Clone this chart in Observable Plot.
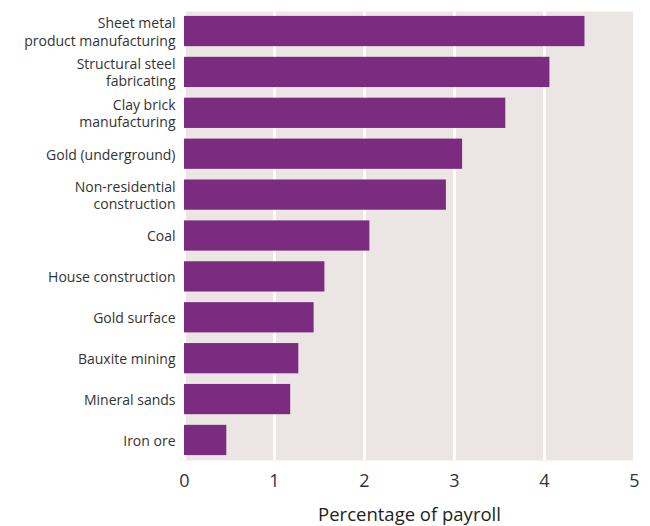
<!DOCTYPE html>
<html>
<head>
<meta charset="utf-8">
<script src="https://cdn.jsdelivr.net/npm/d3@7"></script>
<script src="https://cdn.jsdelivr.net/npm/@observablehq/plot@0.6"></script>
<style>
  html, body { margin: 0; padding: 0; background: #fff; }
  #chart { width: 650px; height: 526px; }
</style>
</head>
<body>
<div id="chart"></div>
<script>
const categories = [
  "Sheet metal\nproduct manufacturing",
  "Structural steel\nfabricating",
  "Clay brick\nmanufacturing",
  "Gold (underground)",
  "Non-residential\nconstruction",
  "Coal",
  "House construction",
  "Gold surface",
  "Bauxite mining",
  "Mineral sands",
  "Iron ore"
];
const values = [4.45, 4.06, 3.57, 3.09, 2.91, 2.06, 1.56, 1.44, 1.27, 1.18, 0.47];
const xTicks = [0, 1, 2, 3, 4, 5];

const data = categories.map((c, i) => ({category: c, value: values[i]}));

const chart = Plot.plot({
  width: 650,
  height: 526,
  marginTop: 11,
  marginBottom: 66,
  marginLeft: 184,
  marginRight: 16,
  style: {fontFamily: "'Open Sans', sans-serif", color: "#333", background: "#fff"},
  x: {domain: [0, 5], ticks: xTicks},
  y: {domain: categories, paddingInner: 0.26, paddingOuter: 0.12, round: false},
  marks: [
    Plot.frame({fill: "#EBE6E3", stroke: null}),
    Plot.gridX(xTicks, {stroke: "#fff", strokeOpacity: 1, strokeWidth: 3}),
    Plot.barX(data, {x: "value", y: "category", fill: "#7B2C81"}),
    Plot.axisY({tickSize: 0, tickPadding: 9, fontSize: 14, lineHeight: 1.22, label: null, fill: "#333"}),
    Plot.axisX(xTicks, {tickSize: 0, tickPadding: 14, fontSize: 18, fill: "#333", label: null}),
    Plot.axisX({ticks: [], tickSize: 0, label: "Percentage of payroll", labelAnchor: "center", labelArrow: "none", labelOffset: 60, fontSize: 18.5, fontWeight: 500, fill: "#222"})
  ]
});
document.getElementById("chart").appendChild(chart);
</script>
</body>
</html>
